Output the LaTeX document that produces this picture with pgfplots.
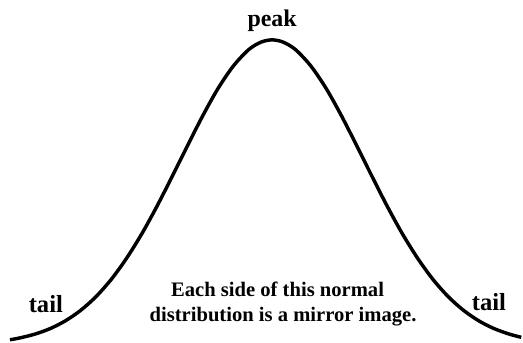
\documentclass[border=0pt]{standalone}
\usepackage{pgfplots}
\pgfplotsset{compat=1.18}
\usepackage{fontspec}
\setmainfont{Liberation Serif}

% curve: x and height above the bottom edge, in pixels
\pgfplotstableread{
x      h
10     3.1
19.5   4.87
34.8   8.72
50.2   14.28
65.5   22.04
80.8   32.52
96.2   46.26
111.5  63.55
126.8  84.6
142.2  109.3
157.5  137.1
172.8  167.1
188.2  198.0
203.5  228.0
218.8  255.3
234.2  277.9
249.5  294.2
261.8  301.7
273    304
284.2  301.7
296.5  294.2
311.8  277.9
327.2  255.3
342.5  228.0
357.8  198.0
373.2  167.1
388.5  137.1
403.8  109.3
419.2  84.6
434.5  63.55
449.8  46.26
465.2  32.52
480.5  22.04
495.8  14.28
511.2  8.72
523    5.6
}\curve

\begin{document}
\begin{tikzpicture}
  \begin{axis}[
    width=392.25pt, height=258pt, scale only axis,
    axis lines=none, clip=false,
    xmin=0, xmax=523,
    ymin=0, ymax=344,
  ]
    \path (rel axis cs:0,0) rectangle (rel axis cs:1,1);
    \addplot[black, line width=2.6pt, smooth, no marks] table[x=x, y=h] {\curve};
    \node[anchor=base, font=\fontsize{18}{20}\selectfont\bfseries] at (rel axis cs:0.522,0.9215) {peak};
    \node[anchor=base, font=\fontsize{18.5}{20}\selectfont\bfseries] at (rel axis cs:0.088,0.0872) {tail};
    \node[anchor=base, font=\fontsize{18.5}{20}\selectfont\bfseries] at (rel axis cs:0.938,0.093) {tail};
    \node[anchor=base, font=\fontsize{15.5}{18}\selectfont\bfseries] at (rel axis cs:0.5325,0.1366) {Each side of this normal};
    \node[anchor=base, font=\fontsize{15.5}{18}\selectfont\bfseries] at (rel axis cs:0.543,0.061) {distribution is a mirror image.};
  \end{axis}
\end{tikzpicture}
\end{document}
